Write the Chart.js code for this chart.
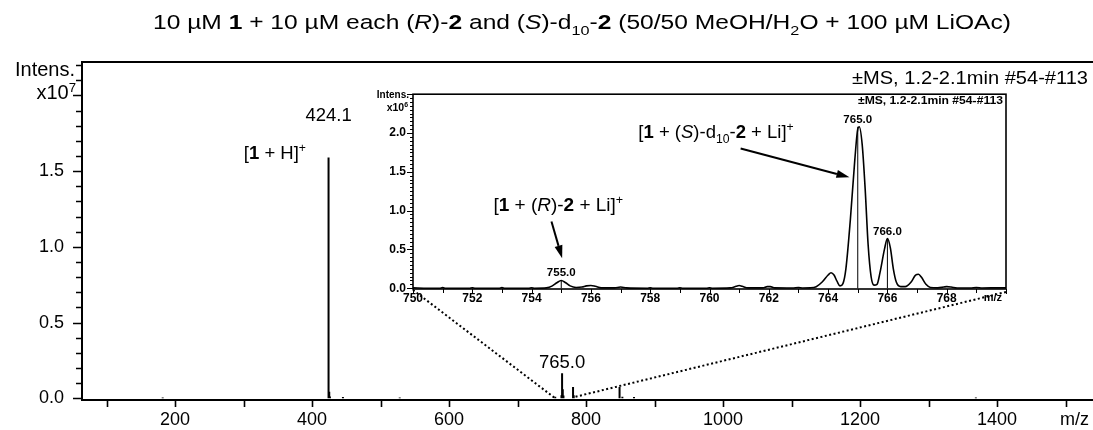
<!DOCTYPE html>
<html><head><meta charset="utf-8">
<script src="https://cdn.jsdelivr.net/npm/chart.js@4/dist/chart.umd.min.js"></script>
<style>
html,body{margin:0;padding:0;background:#fff;}
body{width:1093px;height:430px;overflow:hidden;position:relative;}
canvas{position:absolute;}
#main{left:0;top:0;}
#inset{left:340px;top:80px;}
#overlay{left:0;top:0;pointer-events:none;}
</style></head>
<body>
<canvas id="main" width="1093" height="430"></canvas>
<canvas id="inset" width="680" height="232"></canvas>
<canvas id="overlay" width="1093" height="430"></canvas>
<script>
// ---------- DATA ----------
// Main spectrum (centroid sticks), intensity in units of 10^7
const mainMz  = [182.0, 424.1, 425.1, 426.1, 445.1, 528.0, 755.0, 764.1, 765.0, 766.0, 767.0, 781.0, 782.0, 848.9, 853.0, 870.0, 1369.0];
const mainInt = [0.005, 1.59, 0.044, 0.012, 0.008, 0.006, 0.010, 0.020, 0.165, 0.060, 0.018, 0.075, 0.020, 0.075, 0.010, 0.008, 0.005];
// Main axis ticks
const mainXLabels = [200, 400, 600, 800, 1000, 1200, 1400];
const mainYLabels = [0.0, 0.5, 1.0, 1.5];

// Inset profile spectrum, intensity in units of 10^6
const insetMz = [750.0,750.5,750.9,751.0,751.1,751.9,752.0,752.1,752.9,753.0,753.1,753.9,754.0,754.1,754.5,754.7,754.85,755.0,755.15,755.3,755.5,755.7,755.85,756.0,756.15,756.35,756.8,757.0,757.2,757.9,758.0,758.1,758.9,759.0,759.1,759.9,760.0,760.1,760.7,760.9,761.0,761.1,761.3,761.8,761.95,762.05,762.2,762.8,763.0,763.15,763.4,763.6,763.8,764.0,764.1,764.2,764.3,764.4,764.5,764.6,764.75,764.9,765.0,765.05,765.15,765.25,765.35,765.45,765.55,765.65,765.75,765.9,766.0,766.1,766.2,766.3,766.45,766.6,766.8,766.95,767.05,767.15,767.3,767.45,767.7,767.9,768.0,768.15,768.35,768.8,769.0,769.2,769.8,770.0];
const insetInt = [0.005,0.0,0.0,0.008,0.0,0.0,0.006,0.0,0.0,0.008,0.0,0.0,0.006,0.0,0.005,0.03,0.07,0.10,0.07,0.03,0.01,0.015,0.03,0.035,0.025,0.005,0.005,0.015,0.005,0.0,0.005,0.0,0.0,0.005,0.0,0.0,0.006,0.0,0.005,0.025,0.035,0.025,0.005,0.005,0.02,0.02,0.005,0.003,0.01,0.003,0.005,0.02,0.08,0.17,0.20,0.17,0.09,0.03,0.06,0.25,0.88,1.65,2.05,2.08,1.85,1.28,0.56,0.15,0.04,0.05,0.2,0.5,0.64,0.52,0.25,0.08,0.02,0.02,0.08,0.17,0.18,0.14,0.05,0.01,0.005,0.015,0.02,0.015,0.003,0.003,0.01,0.003,0.005,0.005];
// Inset centroid sticks with labels
const insetStickMz  = [755.0, 765.0, 766.0];
const insetStickInt = [0.10, 2.08, 0.64];
// Zoom connectors: main-axis m/z where dotted lines meet baseline
const connectMz = [755, 781];

// ---------- HELPERS ----------
const FONT = '"Liberation Sans", Arial, Helvetica, sans-serif';
function rich(ctx, runs, x, y, size, align, targetW) {
  const items = runs.map(r => {
    const t = r[0], s = r[1] || '';
    const sm = s.includes('_') || s.includes('^');
    const fs = sm ? size * 0.66 : size;
    const font = (s.includes('i') ? 'italic ' : '') + (s.includes('b') ? 'bold ' : '') + fs + 'px ' + FONT;
    ctx.font = font;
    return {t, font, w: ctx.measureText(t).width, dy: s.includes('_') ? size * 0.28 : (s.includes('^') ? -size * 0.36 : 0)};
  });
  const total = items.reduce((a, b) => a + b.w, 0);
  const sx = targetW ? targetW / total : 1;
  const W = total * sx;
  const x0 = align === 'center' ? x - W / 2 : (align === 'right' ? x - W : x);
  ctx.save();
  ctx.translate(x0, y);
  ctx.scale(sx, 1);
  ctx.textAlign = 'left'; ctx.textBaseline = 'alphabetic'; ctx.fillStyle = '#000';
  let cx = 0;
  for (const it of items) { ctx.font = it.font; ctx.fillText(it.t, cx, it.dy); cx += it.w; }
  ctx.restore();
}
function arrow(ctx, x1, y1, x2, y2, lw, hl, hw) {
  const ang = Math.atan2(y2 - y1, x2 - x1);
  const bx = x2 - hl * Math.cos(ang), by = y2 - hl * Math.sin(ang);
  ctx.save();
  ctx.strokeStyle = '#000'; ctx.fillStyle = '#000'; ctx.lineWidth = lw;
  ctx.beginPath(); ctx.moveTo(x1, y1); ctx.lineTo(bx, by); ctx.stroke();
  ctx.beginPath();
  ctx.moveTo(x2, y2);
  ctx.lineTo(bx + hw / 2 * Math.sin(ang), by - hw / 2 * Math.cos(ang));
  ctx.lineTo(bx - hw / 2 * Math.sin(ang), by + hw / 2 * Math.cos(ang));
  ctx.closePath(); ctx.fill();
  ctx.restore();
}
const isMult = (v, m) => Math.abs(v / m - Math.round(v / m)) < 1e-6;
function sticks(mz, inten) {
  const pts = [];
  mz.forEach((m, i) => { pts.push({x: m, y: 0}, {x: m, y: inten[i]}, {x: m, y: null}); });
  return pts;
}

// ---------- MAIN CHART ----------
const mainPlugin = {
  id: 'mainDeco',
  afterDraw(chart) {
    const {ctx, chartArea: a, scales: {x, y}} = chart;
    ctx.save();
    ctx.strokeStyle = '#000';
    // frame
    ctx.lineWidth = 2;
    ctx.beginPath();
    ctx.moveTo(a.left, a.top); ctx.lineTo(a.right, a.top);
    ctx.moveTo(a.left, a.top - 1); ctx.lineTo(a.left, a.bottom + 1);
    ctx.moveTo(a.left - 1, a.bottom); ctx.lineTo(a.right, a.bottom);
    ctx.stroke();
    // ticks
    ctx.lineWidth = 1.6;
    ctx.beginPath();
    y.ticks.forEach(t => {
      const py = Math.round(y.getPixelForValue(t.value)) + 0.5;
      const len = isMult(t.value, 0.5) ? 9 : 6;
      ctx.moveTo(a.left - len, py); ctx.lineTo(a.left, py);
    });
    x.ticks.forEach(t => {
      const px = Math.round(x.getPixelForValue(t.value)) + 0.5;
      ctx.moveTo(px, a.bottom); ctx.lineTo(px, a.bottom + 7);
    });
    ctx.stroke();
    // axis titles
    rich(ctx, [['Intens.']], a.left - 7, 76, 20, 'right');
    rich(ctx, [['x10'], ['7', '^']], a.left - 6, 99, 20, 'right');
    rich(ctx, [['m/z']], 1089, 425, 18, 'right');
    // title & scan info
    rich(ctx, [['10 µM '], ['1', 'b'], [' + 10 µM each ('], ['R', 'i'], [')-'], ['2', 'b'], [' and ('], ['S', 'i'], [')-d'], ['10', '_'], ['-'], ['2', 'b'], [' (50/50 MeOH/H'], ['2', '_'], ['O + 100 µM LiOAc)']], 582, 29, 20.5, 'center', 858);
    rich(ctx, [['±MS, 1.2-2.1min #54-#113']], 1088, 84, 18, 'right', 236);
    // peak labels
    rich(ctx, [['424.1']], x.getPixelForValue(424.1), 121, 18.5, 'center');
    rich(ctx, [['['], ['1', 'b'], [' + H]'], ['+', '^']], 306, 159, 18.5, 'right');
    rich(ctx, [['765.0']], x.getPixelForValue(765.0), 368, 18.5, 'center');
    ctx.restore();
  }
};

const mainChart = new Chart(document.getElementById('main'), {
  type: 'scatter',
  data: {datasets: [{data: sticks(mainMz, mainInt), showLine: true, spanGaps: false, borderColor: '#000', borderWidth: 2, pointRadius: 0, tension: 0}]},
  options: {
    responsive: false, animation: false, devicePixelRatio: 1,
    layout: {padding: {top: 62, right: 0, left: 0, bottom: 0}},
    plugins: {legend: {display: false}, tooltip: {enabled: false}},
    scales: {
      x: {type: 'linear', min: 64.2, max: 1540, grid: {display: false, drawTicks: false}, border: {display: false},
        afterFit(s) { s.height = 30; },
        ticks: {stepSize: 100, includeBounds: false, autoSkip: false, maxRotation: 0, padding: 9, color: '#000',
          font: {family: FONT, size: 18},
          callback: v => mainXLabels.includes(v) ? String(v) : ''}},
      y: {type: 'linear', min: -0.011, max: 2.221, grid: {display: false, drawTicks: false}, border: {display: false},
        afterFit(s) { s.width = 82; },
        ticks: {stepSize: 0.1, includeBounds: false, autoSkip: false, padding: 18, color: '#000',
          font: {family: FONT, size: 18},
          callback: v => { const m = mainYLabels.find(l => Math.abs(l - v) < 1e-6); return m === undefined ? '' : m.toFixed(1); }}}
    }
  },
  plugins: [mainPlugin]
});

// ---------- INSET CHART ----------
const insetPlugin = {
  id: 'insetDeco',
  afterDraw(chart) {
    const {ctx, chartArea: a, scales: {x, y}} = chart;
    ctx.save();
    ctx.strokeStyle = '#000';
    ctx.lineWidth = 1.6;
    ctx.strokeRect(a.left, a.top, a.right - a.left, a.bottom - a.top);
    ctx.lineWidth = 1;
    ctx.beginPath();
    y.ticks.forEach(t => {
      const py = Math.round(y.getPixelForValue(t.value)) + 0.5;
      const len = isMult(t.value, 0.5) ? 6 : 3;
      ctx.moveTo(a.left - len, py); ctx.lineTo(a.left, py);
    });
    x.ticks.forEach(t => {
      const px = Math.round(x.getPixelForValue(t.value)) + 0.5;
      const len = isMult(t.value, 2) ? 5 : 4;
      ctx.moveTo(px, a.bottom); ctx.lineTo(px, a.bottom + len);
    });
    ctx.stroke();
    rich(ctx, [['Intens.', 'b']], a.left - 4, 18, 10, 'right');
    rich(ctx, [['x10', 'b'], ['6', 'b^']], a.left - 5, 31, 10.5, 'right');
    rich(ctx, [['m/z', 'b']], a.right - 4, a.bottom + 12, 11, 'right');
    rich(ctx, [['±MS, 1.2-2.1min #54-#113', 'b']], a.right - 3, 24, 10.5, 'right', 145);
    // peak labels
    insetStickMz.forEach((m, i) => {
      rich(ctx, [[m.toFixed(1), 'b']], x.getPixelForValue(m), y.getPixelForValue(insetStickInt[i]) - 4, 11.5, 'center');
    });
    // annotations
    rich(ctx, [['['], ['1', 'b'], [' + ('], ['S', 'i'], [')-d'], ['10', '_'], ['-'], ['2', 'b'], [' + Li]'], ['+', '^']],
      x.getPixelForValue(760.22), y.getPixelForValue(1.94), 18.5, 'center');
    arrow(ctx, x.getPixelForValue(761.05), y.getPixelForValue(1.80), x.getPixelForValue(764.72), y.getPixelForValue(1.43), 2, 13, 8);
    rich(ctx, [['['], ['1', 'b'], [' + ('], ['R', 'i'], [')-'], ['2', 'b'], [' + Li]'], ['+', '^']],
      x.getPixelForValue(754.9), y.getPixelForValue(1.00), 19, 'center');
    arrow(ctx, x.getPixelForValue(754.67), y.getPixelForValue(0.86), x.getPixelForValue(755.03), y.getPixelForValue(0.385), 2, 13, 8);
    ctx.restore();
  }
};

const insetChart = new Chart(document.getElementById('inset'), {
  type: 'scatter',
  data: {datasets: [
    {data: insetMz.map((m, i) => ({x: m, y: insetInt[i]})), showLine: true, borderColor: '#000', borderWidth: 1.6, pointRadius: 0, cubicInterpolationMode: 'monotone'},
    {data: sticks(insetStickMz, insetStickInt), showLine: true, spanGaps: false, borderColor: '#000', borderWidth: 1, pointRadius: 0}
  ]},
  options: {
    responsive: false, animation: false, devicePixelRatio: 1,
    layout: {padding: {top: 12, right: 14, left: 0, bottom: 0}},
    plugins: {legend: {display: false}, tooltip: {enabled: false}},
    scales: {
      x: {type: 'linear', min: 750, max: 770, grid: {display: false, drawTicks: false}, border: {display: false},
        afterFit(s) { s.height = 23; },
        ticks: {stepSize: 1, autoSkip: false, maxRotation: 0, padding: 2, color: '#000',
          font: {family: FONT, size: 12, weight: 'bold'},
          callback: v => (isMult(v, 2) && v < 770) ? String(v) : ''}},
      y: {type: 'linear', min: -0.01, max: 2.5, grid: {display: false, drawTicks: false}, border: {display: false},
        afterFit(s) { s.width = 73; },
        ticks: {stepSize: 0.05, includeBounds: false, autoSkip: false, padding: 7, color: '#000',
          font: {family: FONT, size: 12, weight: 'bold'},
          callback: v => (isMult(v, 0.5) && v < 2.45) ? v.toFixed(1) : ''}}
    }
  },
  plugins: [insetPlugin]
});

// ---------- ZOOM CONNECTORS ----------
(function () {
  const ov = document.getElementById('overlay').getContext('2d');
  const ia = insetChart.chartArea;
  const box = document.getElementById('inset');
  const ox = box.offsetLeft, oy = box.offsetTop;
  const y0 = mainChart.scales.y.getPixelForValue(0);
  ov.strokeStyle = '#000'; ov.lineWidth = 2; ov.setLineDash([2, 2.5]);
  ov.beginPath(); ov.moveTo(ox + ia.left, oy + ia.bottom + 1); ov.lineTo(mainChart.scales.x.getPixelForValue(connectMz[0]), y0); ov.stroke();
  ov.beginPath(); ov.moveTo(ox + ia.right, oy + ia.bottom + 3); ov.lineTo(mainChart.scales.x.getPixelForValue(connectMz[1]), y0 - 1); ov.stroke();
})();
</script>
</body></html>
